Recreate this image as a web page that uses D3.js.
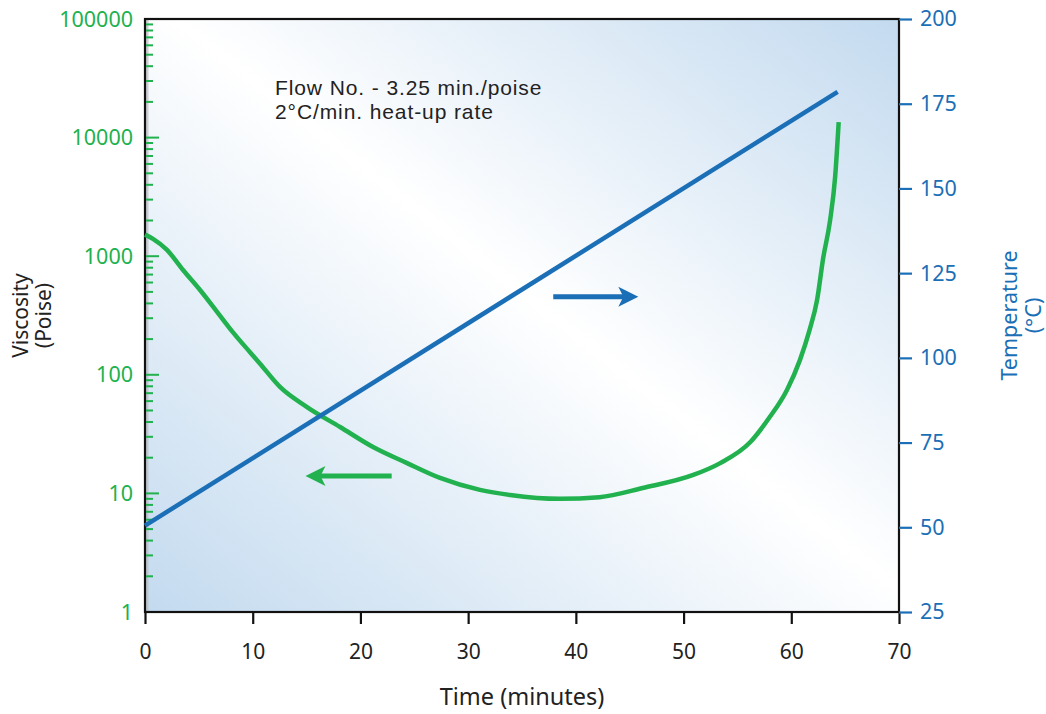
<!DOCTYPE html>
<html>
<head>
<meta charset="utf-8">
<script src="https://cdn.jsdelivr.net/npm/d3@7"></script>
<style>
  body { margin: 0; background: #fff; }
  svg text { font-family: "Noto Sans", "Open Sans", sans-serif; }
  svg text.note { font-family: "Liberation Sans", Arial, sans-serif; }
</style>
</head>
<body>
<div id="chart"></div>
<script>
// viscosity curve (time in minutes, viscosity in poise)
const viscTime = [0, 0.74, 2.04, 3.53, 5.11, 6.69, 8.17, 9.75, 10.68, 12.53, 15.04, 18.11, 21.17, 24.33, 27.39, 31.1, 33.9, 38.5, 42.2, 46.2, 50.9, 53.4, 56.2, 58.0, 59.6, 60.8, 61.7, 62.4, 62.95, 63.6, 64.07, 64.4]
const viscValue = [1520, 1400, 1130, 765, 519, 340, 228, 155, 124, 79, 53.5, 36.3, 24.6, 18.0, 13.5, 10.7, 9.7, 9.0, 9.3, 11.1, 14.3, 18.0, 27.1, 44, 74.5, 133, 239, 430, 950, 2000, 4650, 13500]

// temperature line
const tempTime = [0, 64.3]
const tempValue = [50.5, 178.5]

// axis ticks
const xTicks = [0, 10, 20, 30, 40, 50, 60, 70]
const viscTicks = [1, 10, 100, 1000, 10000, 100000]
const tempTicks = [25, 50, 75, 100, 125, 150, 175, 200]

// notes and arrows
const notes = ['Flow No. - 3.25 min./poise', '2°C/min. heat-up rate']
const tempArrow = {from: 37.9, to: 45.8, y: 118}
const viscArrow = {from: 22.9, to: 14.9, y: 14}

const green = '#21b14e', blue = '#1b6fb7'

var width = 1046, height = 714,
    margin = {top: 19, right: 147, bottom: 102, left: 145}

var svg = d3.select('#chart')
    .append('svg')
        .attr('width', width)
        .attr('height', height)

var x = d3.scaleLinear()
    .domain([0, 70])
    .range([margin.left, width - margin.right])

var yV = d3.scaleLog()
    .domain([1, 100000])
    .range([height - margin.bottom, margin.top])

var yT = d3.scaleLinear()
    .domain([25, 200])
    .range([height - margin.bottom, margin.top])

// background gradient
var grad = svg.append('defs').append('linearGradient')
    .attr('id', 'bg')
    .attr('x1', 0).attr('y1', 1).attr('x2', 1).attr('y2', 0)
grad.append('stop').attr('offset', 0).attr('stop-color', '#c3daef')
grad.append('stop').attr('offset', 0.52).attr('stop-color', '#ffffff')
grad.append('stop').attr('offset', 1).attr('stop-color', '#c3daef')

svg.append('rect')
    .attr('x', x(0))
    .attr('y', yT(200))
    .attr('width', x(70) - x(0))
    .attr('height', yT(25) - yT(200))
    .style('fill', 'url(#bg)')

// faint shadow next to left axis
svg.append('rect')
    .attr('x', x(0) + 1)
    .attr('y', yT(200))
    .attr('width', 2.5)
    .attr('height', yT(25) - yT(200))
    .style('fill', '#b9bcc0')
    .style('opacity', 0.7)

// frame
svg.append('rect')
    .attr('x', x(0))
    .attr('y', yT(200))
    .attr('width', x(70) - x(0))
    .attr('height', yT(25) - yT(200))
    .style('fill', 'none')
    .style('stroke', '#111')
    .style('stroke-width', 2.2)

// bottom axis
var xAxis = svg.append('g')
    .attr('transform', 'translate(0,' + yT(25) + ')')
    .call(d3.axisBottom(x).tickValues(xTicks).tickSize(12).tickPadding(20))
xAxis.select('.domain').remove()
xAxis.selectAll('line').style('stroke', '#111').style('stroke-width', 2.2)
xAxis.selectAll('text').style('font-size', '21px').style('fill', '#222')

// left axis: minor ticks inside
var minor = []
for (var d = 1; d < 100000; d *= 10) {
    for (var k = 2; k <= 9; k++) minor.push(d * k)
}
svg.append('g')
    .selectAll('line')
    .data(minor)
    .join('line')
    .attr('x1', x(0) + 1).attr('x2', x(0) + 8)
    .attr('y1', d => yV(d)).attr('y2', d => yV(d))
    .style('stroke', green)
    .style('stroke-width', 2)
svg.append('g')
    .selectAll('line')
    .data(viscTicks.slice(1, -1))
    .join('line')
    .attr('x1', x(0) + 1).attr('x2', x(0) + 14)
    .attr('y1', d => yV(d)).attr('y2', d => yV(d))
    .style('stroke', green)
    .style('stroke-width', 2)
svg.append('g')
    .selectAll('text')
    .data(viscTicks)
    .join('text')
    .attr('x', x(0) - 12)
    .attr('y', d => yV(d))
    .attr('dy', '0.35em')
    .attr('text-anchor', 'end')
    .style('font-size', '21.5px')
    .style('fill', green)
    .text(d => d)

// right axis
var rAxis = svg.append('g')
    .attr('transform', 'translate(' + x(70) + ',0)')
    .call(d3.axisRight(yT).tickValues(tempTicks).tickSize(13).tickPadding(8))
rAxis.select('.domain').remove()
rAxis.selectAll('line').style('stroke', blue).style('stroke-width', 2.2)
rAxis.selectAll('text').style('font-size', '21.5px').style('fill', blue)

// axis titles
svg.append('text')
    .attr('x', (x(0) + x(70)) / 2)
    .attr('y', 705)
    .attr('text-anchor', 'middle')
    .style('font-size', '23.5px')
    .style('fill', '#222')
    .text('Time (minutes)')

var lt = svg.append('text')
    .attr('transform', 'translate(28,' + ((yT(25) + yT(200)) / 2) + ') rotate(-90)')
    .attr('text-anchor', 'middle')
    .style('font-size', '21px')
    .style('fill', '#222')
lt.append('tspan').attr('x', 0).attr('y', 0).text('Viscosity')
lt.append('tspan').attr('x', 0).attr('y', 23).text('(Poise)')

var rt = svg.append('text')
    .attr('transform', 'translate(1017,' + ((yT(25) + yT(200)) / 2) + ') rotate(-90)')
    .attr('text-anchor', 'middle')
    .style('font-size', '21.5px')
    .style('fill', blue)
rt.append('tspan').attr('x', 0).attr('y', 0).text('Temperature')
rt.append('tspan').attr('x', 0).attr('y', 24).text('(°C)')

// lines
svg.append('path')
    .datum(viscTime.map((t, i) => [t, viscValue[i]]))
    .attr('d', d3.line().x(d => x(d[0])).y(d => yV(d[1])).curve(d3.curveMonotoneX))
    .style('fill', 'none')
    .style('stroke', green)
    .style('stroke-width', 4.5)

svg.append('path')
    .datum(tempTime.map((t, i) => [t, tempValue[i]]))
    .attr('d', d3.line().x(d => x(d[0])).y(d => yT(d[1])))
    .style('fill', 'none')
    .style('stroke', blue)
    .style('stroke-width', 4.5)

// arrows
function arrow(x1, x2, y, color) {
    var dir = x2 > x1 ? 1 : -1
    svg.append('line')
        .attr('x1', x1).attr('x2', x2 - dir * 12)
        .attr('y1', y).attr('y2', y)
        .style('stroke', color)
        .style('stroke-width', 5)
    svg.append('path')
        .attr('d', 'M' + x2 + ',' + y + 'L' + (x2 - dir * 20) + ',' + (y - 10) +
                   'L' + (x2 - dir * 15) + ',' + y + 'L' + (x2 - dir * 20) + ',' + (y + 10) + 'Z')
        .style('fill', color)
}
arrow(x(tempArrow.from), x(tempArrow.to), yT(tempArrow.y), blue)
arrow(x(viscArrow.from), x(viscArrow.to), yV(viscArrow.y), green)

// notes
svg.append('g')
    .selectAll('text')
    .data(notes)
    .join('text')
    .classed('note', true)
    .attr('x', 275)
    .attr('y', (d, i) => 95 + i * 24)
    .style('font-size', '21px')
    .style('letter-spacing', '0.9px')
    .style('fill', '#222')
    .text(d => d)
</script>
</body>
</html>
